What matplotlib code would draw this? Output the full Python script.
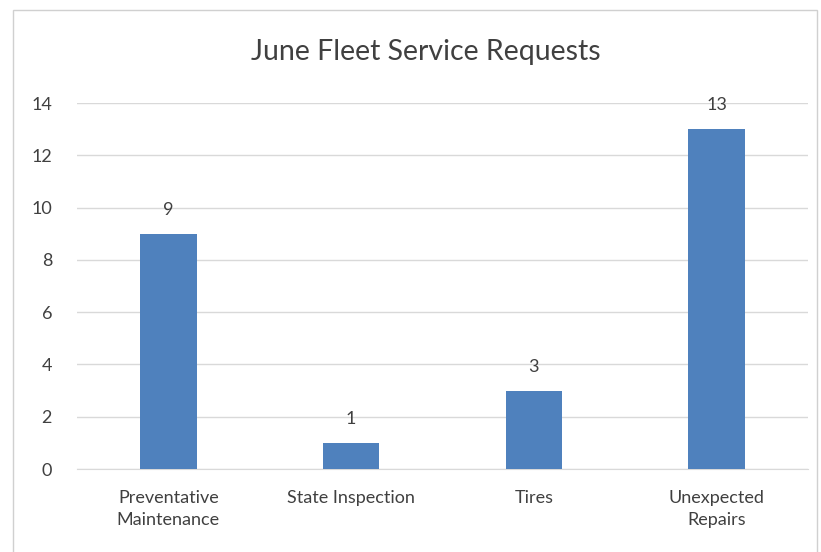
import matplotlib.pyplot as plt
from matplotlib.patches import Rectangle

categorias = ["Preventative\nMaintenance", "State Inspection", "Tires", "Unexpected\nRepairs"]
valores = [9, 1, 3, 13]
ticks_y = [0, 2, 4, 6, 8, 10, 12, 14]

plt.rcParams['font.family'] = ['Lato', 'DejaVu Sans']

fig = plt.figure(figsize=(8.21, 5.52), dpi=100)
ax = fig.add_axes([77 / 821, 1 - 469 / 552, (808 - 77) / 821, (469 - 103) / 552])

# Borda do gráfico no estilo Excel
fig.patches.append(Rectangle((13 / 821, -0.1), (817 - 13) / 821, 1.1 - 10 / 552,
                             transform=fig.transFigure, fill=False,
                             edgecolor="#D0D0D0", linewidth=1))

x = range(len(categorias))
ax.bar(x, valores, width=0.31, color="#4F81BD", zorder=3)
for xi, v in zip(x, valores):
    ax.text(xi, v + 0.6, str(v), ha="center", va="bottom", fontsize=13, color="#404040")

ax.set_xlim(-0.5, len(categorias) - 0.5)
ax.set_ylim(0, 14)
ax.set_yticks(ticks_y)
ax.set_xticks(list(x))
ax.set_xticklabels(categorias, fontsize=13, color="#404040", linespacing=1.45)
ax.tick_params(axis="y", labelsize=13, labelcolor="#404040", length=0, pad=18)
ax.tick_params(axis="x", length=0, pad=15)
ax.grid(axis="y", color="#D9D9D9", linewidth=1, zorder=0)
for lado in ["top", "right", "left"]:
    ax.spines[lado].set_visible(False)
ax.spines["bottom"].set_color("#D9D9D9")

fig.text(426 / 821, 1 - 52 / 552, "June Fleet Service Requests", ha="center", va="center",
         fontsize=20.5, color="#404040")

fig.savefig("out.png", dpi=100)
